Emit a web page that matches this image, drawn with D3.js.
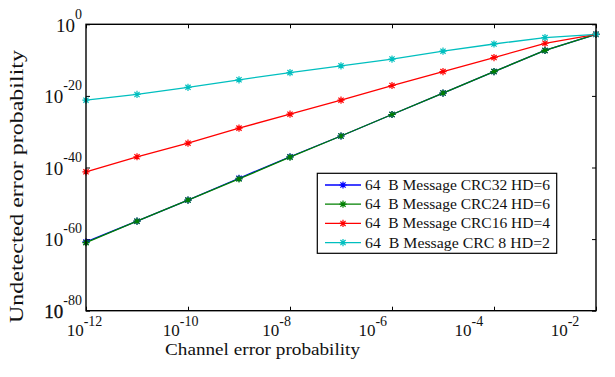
<!DOCTYPE html>
<html>
<head>
<meta charset="utf-8">
<script src="https://cdn.jsdelivr.net/npm/d3@7"></script>
<style>
  body { margin: 0; background: #fff; }
  text { font-family: "Liberation Serif", "Times New Roman", serif; fill: #111; }
</style>
</head>
<body>
<div id="chart"></div>
<script>
// channel error probability (log10), one point per decade
const channelExp = [-12, -11, -10, -9, -8, -7, -6, -5, -4, -3, -2];

// undetected error probability (log10)
const crc32Log = [-60.8, -55.0, -49.1, -43.0, -37.0, -31.2, -25.2, -19.2, -13.2, -7.3, -2.8];
const crc24Log = [-61.0, -55.0, -49.1, -43.2, -37.1, -31.2, -25.2, -19.2, -13.2, -7.3, -2.8];
const crc16Log = [-41.2, -37.0, -33.2, -29.0, -25.1, -21.2, -17.1, -13.2, -9.3, -5.3, -2.8];
const crc8Log  = [-21.2, -19.6, -17.6, -15.5, -13.5, -11.6, -9.7, -7.5, -5.5, -3.7, -2.8];

const seriesNames = [
    "64  B Message CRC32 HD=6",
    "64  B Message CRC24 HD=6",
    "64  B Message CRC16 HD=4",
    "64  B Message CRC 8 HD=2"
];
const seriesColors = ["#0000ff", "#008000", "#ff0000", "#00bfbf"];

// tick labels
const xTickExp = [-12, -10, -8, -6, -4, -2];
const yTickExp = [-80, -60, -40, -20, 0];

const W = 615, H = 377;
const plot = { left: 86, right: 596, top: 24.3, bottom: 310.7 };

const svg = d3.select("#chart").append("svg")
    .attr("width", W)
    .attr("height", H);

const x = d3.scaleLog().domain([1e-12, 1e-2]).range([plot.left, plot.right]);
const y = d3.scaleLog().domain([1e-80, 1]).range([plot.bottom, plot.top]);

// the tick labels in the figure sit on a slightly narrower spacing than the ticks
const xLabelPos = d3.scaleLinear().domain([-12, -2]).range([84.5, 565]);

const series = [crc32Log, crc24Log, crc16Log, crc8Log].map((vals, i) => ({
    name: seriesNames[i],
    color: seriesColors[i],
    points: vals.map((v, j) => ({ px: Math.pow(10, channelExp[j]), py: Math.pow(10, v) }))
}));

// Tick marks (inside, all four sides)
const xTicks = xTickExp.map(e => Math.pow(10, e));
const yTicks = yTickExp.map(e => Math.pow(10, e));

function tickStyle(g) {
    g.select(".domain").remove();
    g.selectAll("line").attr("stroke", "#000").attr("stroke-width", 1);
}
svg.append("g").attr("transform", `translate(0,${plot.bottom})`)
    .call(d3.axisBottom(x).tickValues(xTicks).tickSize(-4).tickFormat("")).call(tickStyle);
svg.append("g").attr("transform", `translate(0,${plot.top})`)
    .call(d3.axisTop(x).tickValues(xTicks).tickSize(-4).tickFormat("")).call(tickStyle);
svg.append("g").attr("transform", `translate(${plot.left},0)`)
    .call(d3.axisLeft(y).tickValues(yTicks).tickSize(-4).tickFormat("")).call(tickStyle);
svg.append("g").attr("transform", `translate(${plot.right},0)`)
    .call(d3.axisRight(y).tickValues(yTicks).tickSize(-4).tickFormat("")).call(tickStyle);

// Lines
const line = d3.line().x(d => x(d.px)).y(d => y(d.py));

series.forEach(s => {
    svg.append("path")
        .datum(s.points)
        .attr("fill", "none")
        .attr("stroke", s.color)
        .attr("stroke-width", 1.3)
        .attr("d", line);
});

// asterisk marker
function star(g, cx, cy, color, r) {
    const d = r * 0.72;
    const p = `M${cx - r},${cy}L${cx + r},${cy}M${cx},${cy - r}L${cx},${cy + r}` +
        `M${cx - d},${cy - d}L${cx + d},${cy + d}M${cx - d},${cy + d}L${cx + d},${cy - d}`;
    g.append("path").attr("d", p).attr("stroke", color).attr("stroke-width", 1.2).attr("fill", "none");
}

series.forEach(s => {
    const g = svg.append("g");
    s.points.forEach(d => star(g, x(d.px), y(d.py), s.color, 3.6));
});

// Frame
svg.append("rect")
    .attr("x", plot.left).attr("y", plot.top)
    .attr("width", plot.right - plot.left)
    .attr("height", plot.bottom - plot.top)
    .attr("fill", "none")
    .attr("stroke", "#000")
    .attr("stroke-width", 1.4);

// X tick labels 10^e
xTickExp.forEach(e => {
    const t = svg.append("text")
        .attr("x", xLabelPos(e))
        .attr("y", 336)
        .attr("text-anchor", "middle")
        .style("font-size", "17px");
    t.append("tspan").text("10");
    t.append("tspan").attr("dy", -10).style("font-size", "14px").text(e);
});

// Y tick labels 10^e
yTickExp.forEach(e => {
    const t = svg.append("text")
        .attr("x", 82)
        .attr("y", y(Math.pow(10, e)) + 7.3)
        .attr("text-anchor", "end")
        .style("font-size", "19px");
    if (e === -80) t.attr("stroke", "#000").attr("stroke-width", 0.3);
    t.append("tspan").text("10");
    t.append("tspan").attr("dy", -13).style("font-size", "14px").attr("stroke", "none").text(e);
});

// Axis titles
svg.append("text")
    .attr("x", 262.5)
    .attr("y", 355)
    .attr("text-anchor", "middle")
    .attr("textLength", 195)
    .attr("lengthAdjust", "spacingAndGlyphs")
    .style("font-size", "17px")
    .text("Channel error probability");

svg.append("text")
    .attr("transform", "translate(23,186.5) rotate(-90)")
    .attr("text-anchor", "middle")
    .attr("textLength", 273)
    .attr("lengthAdjust", "spacingAndGlyphs")
    .style("font-size", "18px")
    .text("Undetected error probability");

// Legend
const legend = svg.append("g");
legend.append("rect")
    .attr("x", 317.3).attr("y", 173.3)
    .attr("width", 239.4).attr("height", 80)
    .attr("fill", "#fff")
    .attr("stroke", "#000")
    .attr("stroke-width", 1.2);

series.forEach((s, i) => {
    const ry = 185 + i * 19.2;
    legend.append("line")
        .attr("x1", 325).attr("x2", 361)
        .attr("y1", ry).attr("y2", ry)
        .attr("stroke", s.color)
        .attr("stroke-width", 1.3);
    star(legend, 343, ry, s.color, 3.6);
    legend.append("text")
        .attr("x", 365)
        .attr("y", ry + 5)
        .attr("textLength", 185)
        .attr("lengthAdjust", "spacingAndGlyphs")
        .style("font-size", "14px")
        .style("white-space", "pre")
        .text(s.name);
});
</script>
</body>
</html>
